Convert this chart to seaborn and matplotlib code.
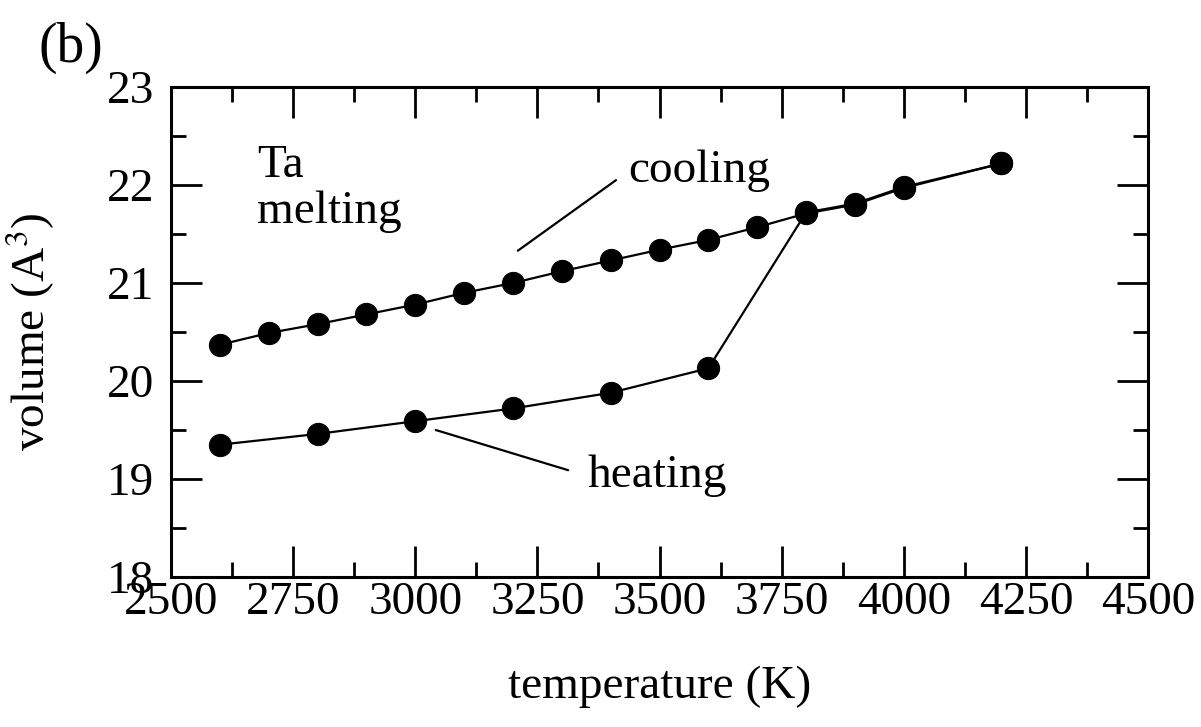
import numpy as np
import pandas as pd
import matplotlib
matplotlib.use('Agg')
import matplotlib.pyplot as plt
import seaborn as sns

# data
cool_T = [2600, 2700, 2800, 2900, 3000, 3100, 3200, 3300, 3400, 3500, 3600, 3700, 3800, 3900, 4000, 4200]
cool_V = [20.37, 20.49, 20.58, 20.68, 20.78, 20.90, 21.00, 21.12, 21.23, 21.34, 21.44, 21.57, 21.71, 21.80, 21.97, 22.22]
heat_T = [2600, 2800, 3000, 3200, 3400, 3600, 3800, 3900, 4000, 4200]
heat_V = [19.35, 19.46, 19.59, 19.72, 19.88, 20.13, 21.72, 21.81, 21.98, 22.22]
x_ticks = [2500, 2750, 3000, 3250, 3500, 3750, 4000, 4250, 4500]
y_ticks = [18, 19, 20, 21, 22, 23]

sns.set_style('ticks')
plt.rcParams['font.family'] = ['Liberation Serif', 'DejaVu Serif']
plt.rcParams['mathtext.fontset'] = 'stix'
# plain black everywhere, like the original
for k in ['text.color', 'axes.labelcolor', 'xtick.color', 'ytick.color', 'axes.edgecolor']:
    plt.rcParams[k] = 'black'

df_cool = pd.DataFrame({'T': cool_T, 'V': cool_V})
df_heat = pd.DataFrame({'T': heat_T, 'V': heat_V})

fig = plt.figure(figsize=(12.01, 7.27), dpi=100)
ax = fig.add_axes([0.1424, 0.2063, 0.8135, 0.674])

for d in (df_cool, df_heat):
    sns.lineplot(data=d, x='T', y='V', ax=ax, color='black', linewidth=1.6,
                 marker='o', markersize=16, markeredgecolor='black', sort=False)

ax.set_xlim(2500, 4500)
ax.set_ylim(18, 23)
ax.set_xticks(x_ticks)
ax.set_yticks(y_ticks)
ax.set_xticks(np.arange(2625, 4500, 250), minor=True)
ax.set_yticks(np.arange(18.5, 23, 1.0), minor=True)
ax.tick_params(which='both', direction='in', top=True, right=True, width=2, labelsize=34)
ax.tick_params(which='major', length=22)
ax.tick_params(which='minor', length=11)
ax.tick_params(axis='x', pad=3)
ax.tick_params(axis='y', pad=12)
for s in ax.spines.values():
    s.set_linewidth(2.2)

ax.set_xlabel('temperature (K)', fontsize=34, labelpad=30)
ax.set_ylabel('volume (A$^3$)', fontsize=34, labelpad=36)

# annotations
ax.text(2676, 22.08, 'Ta', fontsize=34)
ax.text(2676, 21.61, 'melting', fontsize=34)
ax.text(3435, 22.03, 'cooling', fontsize=34)
ax.text(3352, 18.92, 'heating', fontsize=34)
ax.plot([3210, 3411], [21.33, 22.05], color='black', linewidth=1.6)
ax.plot([3042, 3313], [19.50, 19.09], color='black', linewidth=1.6)

fig.text(0.032, 0.915, '(b)', fontsize=40)

fig.savefig('out.png', dpi=100)
